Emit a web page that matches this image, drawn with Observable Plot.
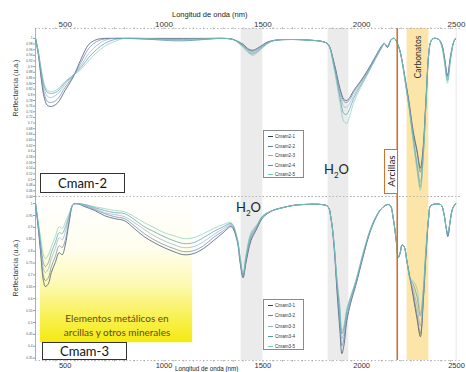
<!DOCTYPE html>
<html><head><meta charset="utf-8">
<script src="https://cdn.jsdelivr.net/npm/d3@7"></script>
<script src="https://cdn.jsdelivr.net/npm/@observablehq/plot@0.6"></script>
<style>
body{margin:0;background:#fff;}
#wrap{position:relative;width:466px;height:372px;overflow:hidden;font-family:"Liberation Sans",Arial,sans-serif;}
#wrap svg{position:absolute;left:0;}
.ov{position:absolute;white-space:nowrap;}
.rot{transform:translate(-50%,-50%) rotate(-90deg);}
.cbox{position:absolute;box-sizing:border-box;border:1px solid #333;background:#fff;font-family:Lato,"Open Sans",sans-serif;font-size:13px;color:#111;display:flex;align-items:center;justify-content:center;}
.leg{position:absolute;box-sizing:border-box;border:1px solid #8a8a8a;background:#fff;}
.leg div{position:absolute;left:11px;font-size:4.6px;color:#333;line-height:5px;}
.leg span{position:absolute;left:-7px;top:2px;width:5px;height:1.2px;}
</style></head><body><div id="wrap"></div>
<script>
// ---------- data ----------
const xTicks = [500, 1000, 1500, 2000];
const xTickLast = [2500];
const yTicksTop = d3.range(0.44, 1.001, 0.02);
const yTicksBottom = d3.range(0.35, 1.001, 0.05);
const waterBands = [[1390, 1500], [1830, 1935]];
const carbonateBand = [2230, 2340];
const clayLine = 2180;
const metalZone = [375, 1145, 0.415];
const names2 = ["Cmam2-1", "Cmam2-2", "Cmam2-3", "Cmam2-4", "Cmam2-5"];
const names3 = ["Cmam3-1", "Cmam3-2", "Cmam3-3", "Cmam3-4", "Cmam3-5"];
const seriesColors = ["#2a3d5c", "#5f80a4", "#91abcf", "#4b96a6", "#7fcab5"];

const wl2 = [350,365,380,395,410,430,460,500,540,580,620,660,700,750,800,900,1000,1100,1200,1300,1350,1400,1430,1450,1480,1520,1560,1650,1750,1800,1830,1860,1890,1910,1925,1940,1960,1990,2030,2070,2100,2115,2130,2150,2165,2185,2200,2220,2240,2260,2280,2297,2310,2325,2340,2350,2365,2390,2405,2420,2434,2450,2465,2475];
const cmam2_1 = [1,.940,.851,.788,.763,.759,.770,.816,.862,.926,.979,.996,1,1,1,1,1,1,1,1,.996,.979,.961,.958,.968,.986,.993,.996,.993,.989,.979,.915,.823,.784,.780,.791,.816,.844,.887,.936,.972,.982,.968,.996,1,.975,.936,.858,.773,.674,.604,.540,.604,.781,.950,.989,1,.996,.979,.929,.869,.940,.986,1];
const cmam2_2 = [1,.943,.862,.802,.777,.773,.784,.827,.865,.915,.965,.989,.998,1,1,.998,.996,.996,.998,1,.996,.975,.958,.954,.965,.984,.993,.996,.993,.989,.979,.912,.816,.777,.773,.784,.809,.841,.883,.933,.968,.982,.968,.996,1,.975,.936,.855,.766,.667,.596,.526,.596,.773,.950,.989,1,.996,.979,.926,.865,.936,.986,1];
const cmam2_3 = [1,.947,.873,.819,.795,.791,.802,.837,.869,.904,.947,.975,.993,1,1,.998,.995,.993,.996,1,.996,.973,.954,.949,.961,.982,.993,.996,.993,.989,.979,.908,.805,.759,.756,.770,.798,.834,.880,.933,.968,.982,.972,.996,1,.975,.936,.851,.759,.653,.561,.490,.575,.766,.950,.989,1,.996,.975,.922,.858,.933,.986,1];
const cmam2_4 = [1,.950,.880,.830,.809,.805,.812,.844,.869,.897,.933,.961,.982,.996,1,.998,.993,.991,.996,1,.996,.972,.950,.945,.958,.981,.993,.996,.993,.989,.979,.901,.791,.734,.731,.752,.788,.827,.876,.929,.965,.982,.972,.996,1,.975,.936,.848,.756,.646,.547,.473,.568,.763,.950,.989,1,.996,.975,.915,.851,.929,.986,1];
const cmam2_5 = [1,.950,.887,.837,.816,.812,.819,.848,.869,.890,.922,.950,.972,.989,1,1,.996,.996,.998,1,.996,.968,.947,.940,.954,.979,.993,.996,.993,.989,.979,.894,.773,.706,.699,.727,.773,.819,.873,.926,.965,.982,.972,.996,1,.975,.936,.844,.752,.639,.533,.462,.561,.759,.950,.989,1,.996,.972,.908,.841,.926,.986,1];

const wl3 = [350,360,375,390,400,415,430,450,470,485,500,520,540,560,600,650,700,750,800,850,900,950,1000,1050,1100,1150,1200,1250,1300,1340,1370,1385,1400,1415,1440,1470,1500,1550,1600,1650,1700,1800,1830,1845,1860,1875,1890,1900,1910,1925,1945,1970,2010,2040,2070,2100,2130,2145,2160,2175,2185,2195,2205,2215,2230,2245,2260,2280,2297,2312,2325,2340,2350,2400,2415,2428,2436,2448,2460,2475];
const cmam3_1 = [1,.928,.802,.676,.651,.663,.710,.752,.794,.785,.823,.920,.996,1,.987,.971,.949,.937,.928,.895,.861,.836,.815,.798,.785,.790,.811,.844,.878,.903,.844,.752,.688,.752,.844,.895,.941,.971,.983,.992,.996,.996,.987,.937,.823,.634,.465,.369,.402,.507,.583,.655,.785,.874,.937,.979,.996,.992,.937,.844,.773,.794,.827,.819,.752,.684,.613,.516,.440,.592,.781,.949,.992,.996,.962,.895,.861,.928,.979,1];
const cmam3_2 = [1,.933,.815,.697,.676,.688,.735,.777,.823,.815,.844,.928,.996,1,.992,.975,.958,.945,.937,.907,.874,.848,.827,.811,.798,.802,.823,.857,.886,.907,.848,.760,.693,.760,.853,.899,.945,.971,.983,.992,.996,.996,.987,.937,.827,.655,.499,.402,.432,.524,.592,.663,.790,.878,.937,.979,.996,.992,.937,.844,.773,.794,.827,.819,.752,.684,.625,.533,.453,.600,.785,.949,.992,.996,.962,.895,.865,.928,.979,1];
const cmam3_3 = [1,.937,.832,.726,.710,.726,.768,.811,.857,.848,.878,.941,.996,1,.992,.979,.962,.954,.945,.920,.891,.865,.844,.827,.815,.819,.840,.869,.895,.912,.853,.768,.697,.768,.861,.903,.945,.971,.983,.992,.996,.996,.987,.937,.832,.667,.528,.432,.457,.541,.600,.667,.794,.878,.941,.979,.996,.992,.937,.844,.773,.794,.827,.819,.752,.684,.642,.571,.486,.613,.794,.949,.992,.996,.962,.895,.869,.928,.979,1];
const cmam3_4 = [1,.941,.844,.752,.735,.752,.794,.836,.878,.874,.899,.949,.996,1,.996,.983,.971,.962,.958,.933,.903,.882,.861,.844,.832,.836,.857,.882,.903,.916,.853,.773,.701,.777,.869,.907,.949,.971,.983,.992,.996,.996,.987,.937,.836,.676,.550,.453,.474,.550,.608,.672,.798,.882,.941,.979,.996,.992,.937,.844,.773,.794,.827,.819,.752,.684,.663,.608,.528,.634,.802,.949,.992,.996,.962,.895,.874,.928,.979,1];
const cmam3_5 = [1,.945,.861,.785,.768,.785,.819,.861,.903,.895,.920,.958,.996,1,.996,.987,.979,.971,.966,.945,.920,.899,.878,.865,.853,.857,.874,.895,.912,.920,.857,.777,.705,.785,.878,.912,.949,.971,.983,.992,.996,.996,.987,.937,.836,.684,.571,.465,.486,.558,.613,.676,.802,.882,.941,.979,.996,.992,.937,.844,.773,.794,.827,.819,.752,.684,.676,.642,.537,.646,.811,.949,.992,.996,.962,.895,.878,.928,.979,1];

// ---------- build ----------
function toRows(wl, series, names) {
  return series.flatMap((s, i) => s.map((v, j) => ({wl: wl[j], r: v, k: names[i]})));
}
const data2 = toRows(wl2, [cmam2_1, cmam2_2, cmam2_3, cmam2_4, cmam2_5], names2);
const data3 = toRows(wl3, [cmam3_1, cmam3_2, cmam3_3, cmam3_4, cmam3_5], names3);
const fmt = d => String(+d.toFixed(2));
const xfmt = d => String(d);
const font = "Liberation Sans, Arial, sans-serif";

function panel(opts) {
  const {data, names, yDomain, yTicks, height, mt, mb, top} = opts;
  const [y0, y1] = yDomain;
  const anchor = top ? "top" : "bottom";
  const fs = top ? 8 : 7.5;
  const marks = [];
  if (opts.metal) {
    marks.push(Plot.rect([metalZone], {x1: d => d[0], x2: d => d[1], y1: d => d[2], y2: y1, fill: "url(#metalGrad)"}));
  }
  marks.push(
    Plot.rect(waterBands, {x1: d => d[0], x2: d => d[1], y1: y0, y2: y1, fill: "#ebebeb"}),
    Plot.rect([carbonateBand], {x1: d => d[0], x2: d => d[1], y1: y0, y2: y1, fill: "#fbe5a8"}),
    Plot.ruleY([y1], {stroke: "#aaa", strokeWidth: 0.8, strokeDasharray: "1.5,2"}),
    Plot.ruleY([y0], {stroke: "#aaa", strokeWidth: 0.8, strokeDasharray: "1.5,2"}),
    Plot.ruleX([350], {stroke: "#999", strokeWidth: 0.8}),
    Plot.ruleX([2478], {stroke: "#e2e2e2", strokeWidth: 0.8}),
    Plot.line(data, {x: "wl", y: "r", z: "k", stroke: "k", strokeWidth: 0.75, strokeOpacity: 0.9, curve: "catmull-rom"}),
    Plot.ruleX([clayLine], {stroke: "#c8742e", strokeWidth: 1.6}),
    Plot.axisY({ticks: yTicks, tickSize: 2, tickPadding: 1, fontSize: 3.2, tickFormat: fmt, label: null, stroke: "#999", fill: "#555"}),
    Plot.axisX({anchor, ticks: xTicks, tickSize: 0, tickPadding: 2, fontSize: fs, tickFormat: xfmt, label: null, fill: "#333"}),
    Plot.axisX({anchor, ticks: xTickLast, tickSize: 0, tickPadding: 2, fontSize: fs, tickFormat: xfmt, label: null, fill: "#333", dx: -4}),
    Plot.axisX({anchor, ticks: d3.range(400, 2500, 50), tickSize: 1.5, tickFormat: () => "", label: null, stroke: "#aaa"})
  );
  return Plot.plot({
    width: 466, height, marginLeft: 35, marginRight: 6, marginTop: mt, marginBottom: mb,
    style: {fontFamily: font, background: "transparent", overflow: "visible"},
    x: {domain: [350, 2500], axis: null},
    y: {domain: yDomain, axis: null},
    color: {domain: names, range: seriesColors},
    marks
  });
}

const wrap = document.getElementById("wrap");
const topSvg = panel({data: data2, names: names2, yDomain: [0.44, 1.035], yTicks: yTicksTop, height: 196, mt: 28, mb: 0, top: true});
topSvg.style.top = "0px";
const botSvg = panel({data: data3, names: names3, yDomain: [0.34, 1.03], yTicks: yTicksBottom, height: 176, mt: 0, mb: 12, top: false, metal: true});
botSvg.style.top = "196px";
// gradient for metallic-elements zone
const defs = d3.select(botSvg).insert("defs", ":first-child");
const g = defs.append("linearGradient").attr("id", "metalGrad").attr("x1", 0).attr("y1", 0).attr("x2", 0).attr("y2", 1);
[[0, "#ffffff"], [0.35, "#fffef0"], [0.6, "#fdf9b5"], [0.85, "#f8f04a"], [1, "#f4ea10"]].forEach(([o, c]) => g.append("stop").attr("offset", o).attr("stop-color", c));
wrap.appendChild(topSvg);
wrap.appendChild(botSvg);

function ov(html, css, cls = "ov") {
  const d = document.createElement("div");
  d.className = cls;
  d.innerHTML = html;
  Object.assign(d.style, css);
  wrap.appendChild(d);
  return d;
}
// axis titles
ov("Longitud de onda (nm)", {left: "172px", top: "10px", fontSize: "7.5px", color: "#222"});
ov("Longitud de onda (nm)", {left: "175px", top: "365px", fontSize: "6.3px", color: "#222"});
ov("Reflectancia (u.a.)", {left: "15px", top: "88px", fontSize: "7px", color: "#333"}, "ov rot");
ov("Reflectancia (u.a.)", {left: "15px", top: "268px", fontSize: "7px", color: "#333"}, "ov rot");
// panel labels
ov("Cmam-2", {left: "40px", top: "173px", width: "85px", height: "20px"}, "cbox");
ov("Cmam-3", {left: "42px", top: "342px", width: "85px", height: "18px"}, "cbox");
// annotations
ov("Elementos metálicos en<br>arcillas y otros minerales", {left: "42px", top: "311px", width: "150px", textAlign: "center", fontFamily: "Lato, sans-serif", fontSize: "10px", lineHeight: "14px", color: "#5e4d12"});
ov("H<sub style='font-size:8px'>2</sub>O", {left: "324px", top: "161px", fontFamily: "Lato, sans-serif", fontSize: "13px", color: "#222"});
ov("H<sub style='font-size:8px'>2</sub>O", {left: "236px", top: "199px", fontFamily: "Lato, sans-serif", fontSize: "13px", color: "#222"});
ov("Carbonatos", {left: "418px", top: "57px", fontFamily: "Lato, sans-serif", fontSize: "8.5px", color: "#333"}, "ov rot");
ov("", {left: "384px", top: "149px", width: "14px", height: "45px", boxSizing: "border-box", border: "1.5px solid #d4722a", background: "#fff"});
ov("Arcillas", {left: "391px", top: "171px", fontFamily: "Lato, sans-serif", fontSize: "10px", color: "#222"}, "ov rot");
// legends
function legend(names, left, top, h) {
  const box = ov("", {left: left + "px", top: top + "px", width: "41px", height: h + "px"}, "leg");
  const step = (h - 10) / 4;
  names.forEach((n, i) => {
    const e = document.createElement("div");
    e.style.top = (3 + i * step) + "px";
    e.innerHTML = `<span style="background:${seriesColors[i]}"></span>${n}`;
    box.appendChild(e);
  });
}
legend(names2, 263, 130, 48);
legend(names3, 263, 299, 51);
</script>
</body></html>
